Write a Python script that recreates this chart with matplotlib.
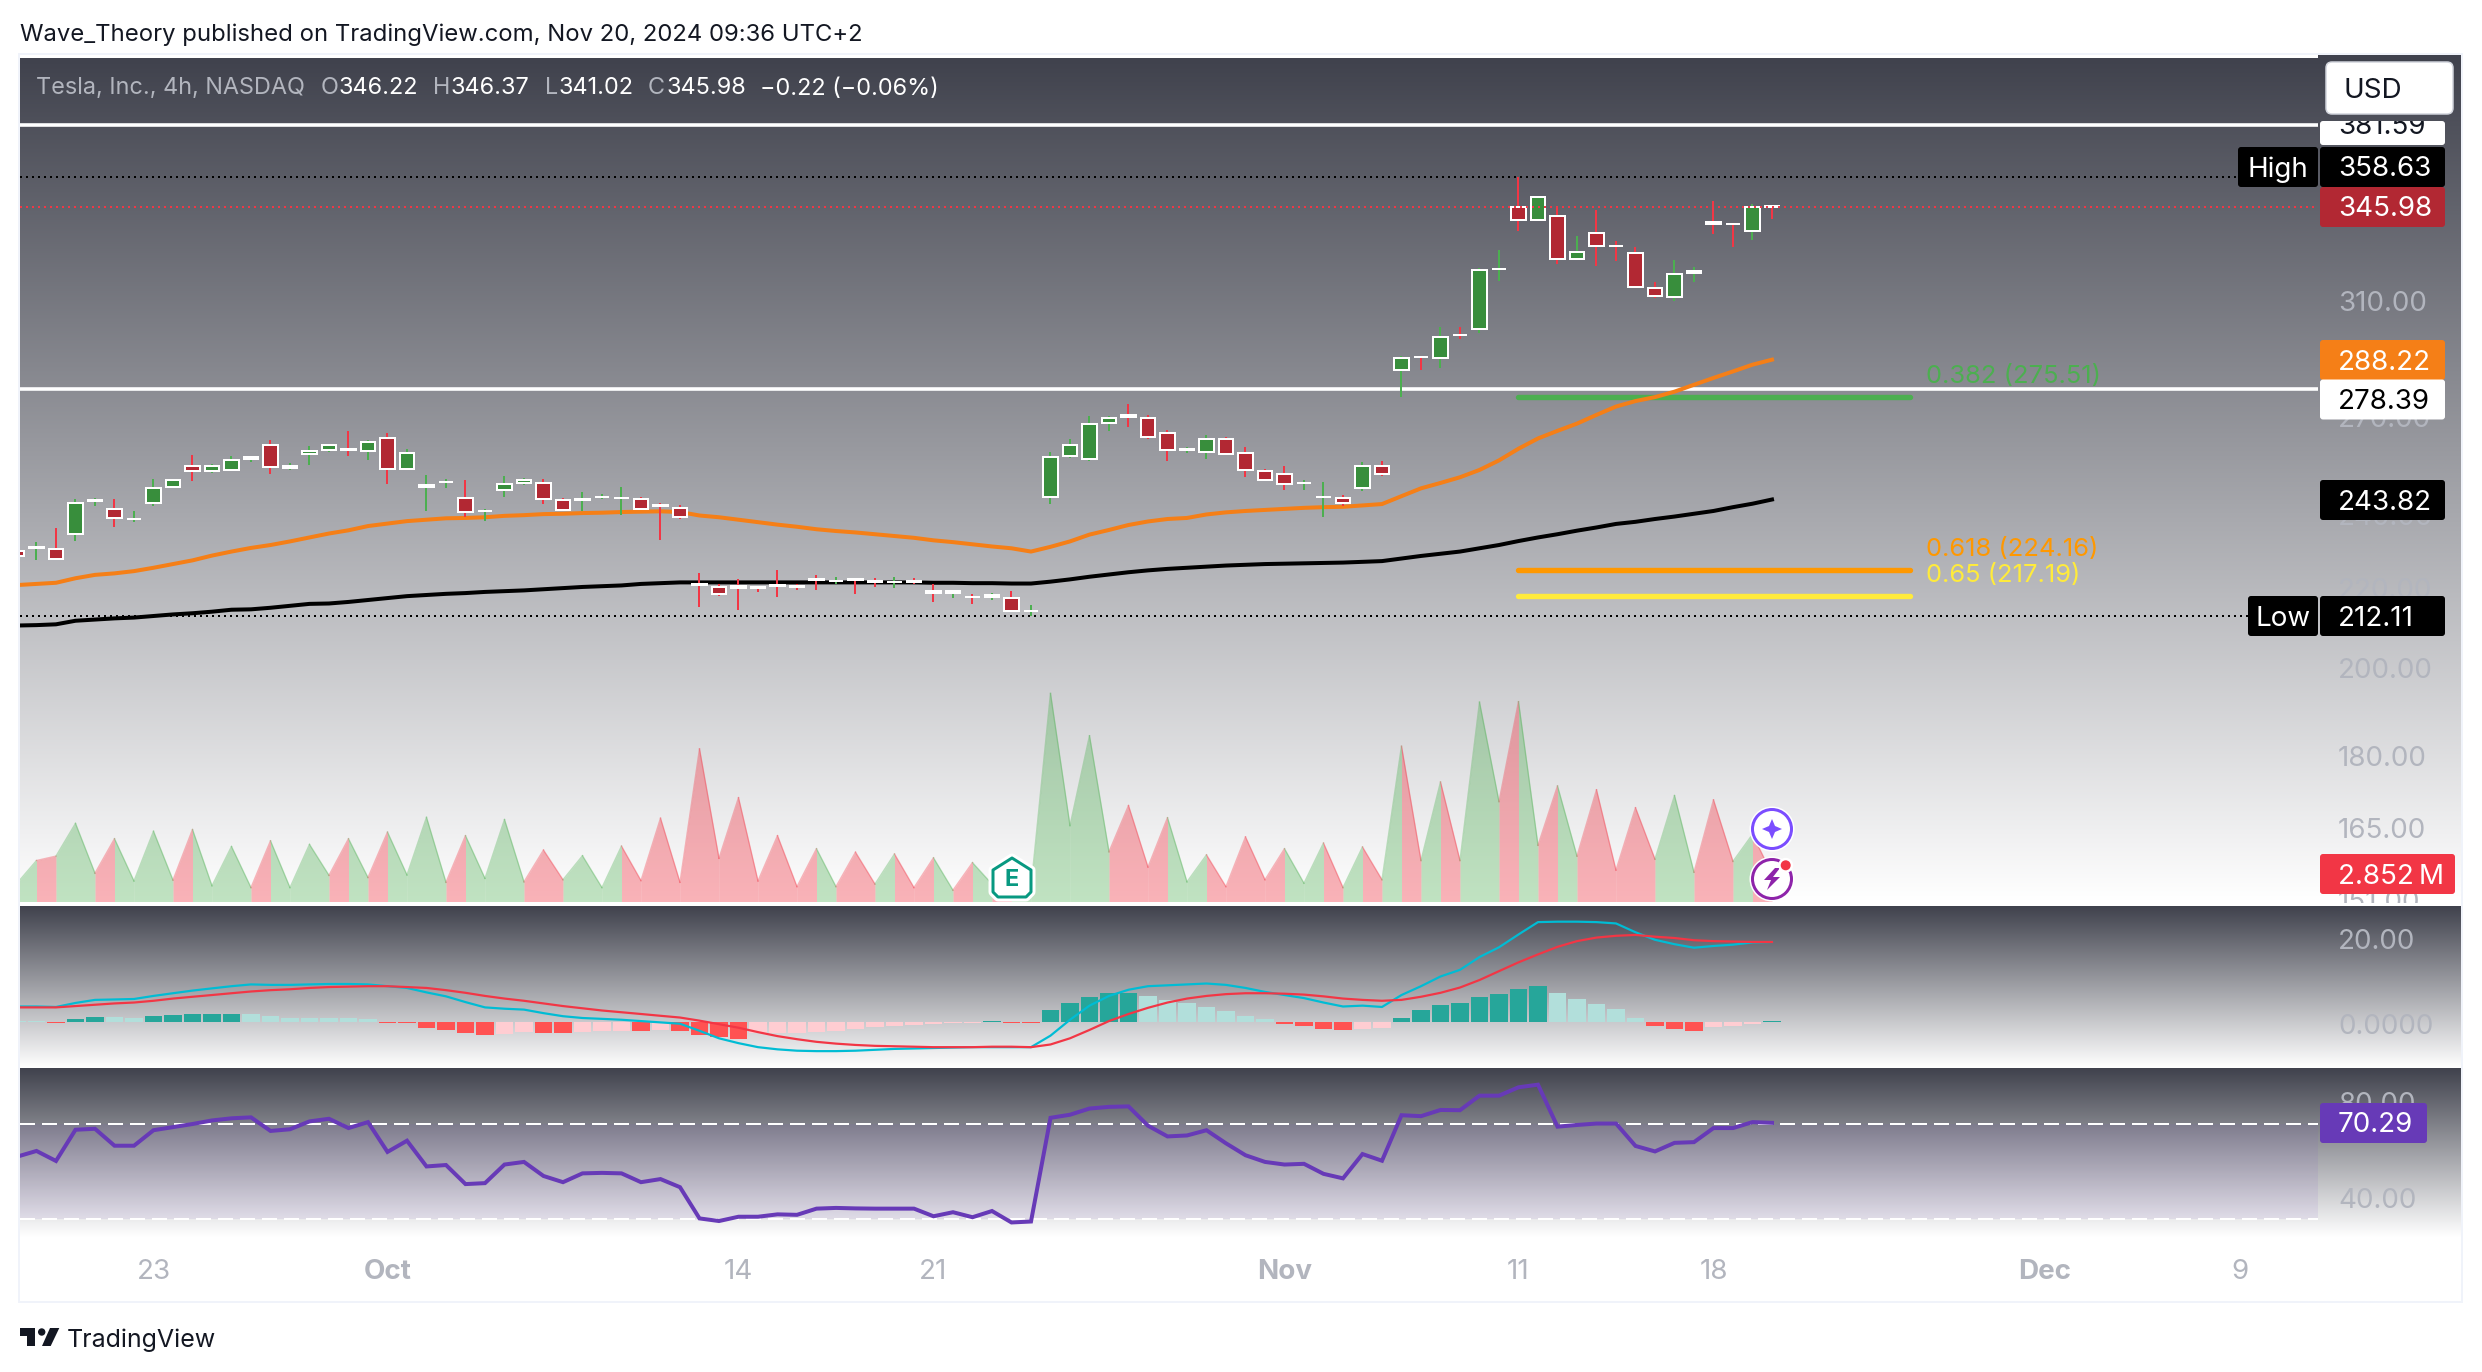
import numpy as np
import matplotlib
matplotlib.use('Agg')
import matplotlib.pyplot as plt
from matplotlib.patches import Rectangle, FancyBboxPatch, Polygon, Circle
from matplotlib.transforms import Bbox, TransformedBbox, ScaledTranslation

plt.rcParams['font.family'] = ['Inter', 'Liberation Sans', 'DejaVu Sans']

# Data
opens = [229.3, 230.2, 229.8, 234.1, 243.3, 241.1, 238.3, 242.7, 247.6, 253.7, 252.4, 252.7, 256.0, 260.2, 253.2, 257.6,
         258.8, 258.9, 258.5, 262.4, 253.0, 247.5, 248.9, 244.2, 240.5, 246.7, 248.8, 248.7, 243.6, 243.7, 244.6, 244.3,
         243.9, 242.1, 241.3, 220.3, 219.6, 219.9, 219.5, 220.0, 219.8, 221.6, 221.2, 221.6, 221.1, 221.0, 221.1, 218.6,
         218.0, 217.1, 217.0, 216.7, 213.5, 244.6, 256.9, 256.0, 267.3, 269.8, 268.7, 264.0, 258.7, 258.2, 262.0, 257.7,
         252.2, 251.5, 248.6, 244.5, 244.2, 247.3, 253.7, 284.7, 289.2, 288.9, 296.9, 299.1, 321.2, 345.9, 340.8, 342.2,
         325.3, 335.3, 330.3, 327.3, 313.9, 310.8, 319.7, 340.0, 339.0, 336.0, 346.22]
highs = [229.6, 231.8, 235.7, 244.0, 244.3, 244.0, 240.6, 249.9, 249.6, 257.2, 254.4, 256.9, 256.9, 261.9, 254.7, 260.0,
         260.3, 264.7, 261.9, 264.1, 259.0, 251.1, 249.9, 249.6, 241.1, 250.8, 250.2, 249.9, 244.3, 246.1, 245.5, 247.5,
         244.6, 242.9, 242.3, 223.4, 220.4, 221.8, 219.9, 224.1, 220.4, 222.8, 222.3, 221.8, 222.0, 222.3, 222.0, 220.4,
         218.9, 217.8, 218.1, 218.6, 214.8, 258.1, 262.1, 269.5, 269.5, 273.4, 269.8, 265.1, 259.6, 263.4, 262.8, 259.6,
         252.9, 253.8, 249.5, 248.9, 245.1, 255.0, 255.3, 289.5, 289.5, 299.7, 299.7, 321.6, 328.7, 358.63, 350.1, 346.0,
         334.2, 344.8, 332.2, 329.9, 316.3, 324.6, 322.0, 348.5, 339.3, 347.2, 346.37]
lows = [227.8, 226.9, 227.0, 232.1, 241.8, 236.0, 237.4, 242.0, 247.5, 249.3, 251.7, 252.6, 255.1, 251.4, 252.6, 254.1,
        258.1, 256.9, 255.6, 248.4, 253.0, 240.6, 247.2, 238.8, 237.7, 244.6, 248.1, 242.6, 240.8, 240.6, 244.0, 239.4,
        240.8, 232.3, 238.3, 214.5, 217.3, 213.7, 218.3, 217.0, 218.9, 218.9, 220.4, 217.8, 219.7, 219.2, 220.4, 215.7,
        216.8, 215.2, 216.3, 213.0, 212.11, 242.5, 256.2, 255.3, 264.7, 265.9, 262.2, 255.3, 257.8, 255.9, 257.3, 250.4,
        249.3, 246.6, 246.6, 238.7, 242.0, 246.3, 250.7, 275.6, 284.6, 285.3, 295.4, 297.4, 316.7, 336.2, 340.7, 323.2,
        325.2, 322.3, 324.4, 314.2, 310.3, 309.1, 316.3, 335.0, 329.9, 332.6, 341.02]
closes = [228.0, 230.3, 227.2, 242.8, 243.7, 238.4, 238.3, 247.1, 249.5, 252.4, 253.7, 255.5, 256.6, 253.4, 253.8, 258.3,
          260.2, 258.8, 261.1, 253.0, 257.7, 248.1, 249.0, 240.3, 240.5, 248.3, 249.5, 244.1, 240.9, 244.0, 244.6, 244.3,
          241.1, 242.0, 238.9, 220.2, 217.8, 219.4, 219.4, 219.9, 219.7, 221.5, 221.2, 221.5, 221.0, 221.0, 221.0, 218.0,
          218.6, 217.0, 217.4, 213.5, 213.5, 256.4, 260.1, 266.8, 268.7, 269.1, 262.6, 258.8, 259.0, 262.0, 257.6, 252.7,
          249.6, 248.4, 248.6, 244.5, 242.8, 253.7, 251.4, 288.7, 289.1, 296.3, 296.8, 320.7, 321.2, 340.8, 350.0, 325.3,
          327.7, 330.4, 330.2, 314.5, 311.2, 319.2, 320.4, 339.0, 338.9, 345.9, 345.98]
ma_orange = [220.1, 220.4, 220.7, 221.9, 222.8, 223.2, 223.8, 224.7, 225.7, 226.7, 228.0, 229.1, 230.1, 230.9, 231.9, 233.0,
             234.1, 235.0, 236.2, 236.9, 237.6, 238.0, 238.4, 238.5, 238.7, 239.1, 239.3, 239.6, 239.7, 239.9, 240.0, 240.2,
             240.3, 240.4, 240.2, 239.2, 238.7, 238.0, 237.3, 236.6, 236.0, 235.3, 234.8, 234.4, 233.9, 233.4, 232.9, 232.2,
             231.7, 231.1, 230.5, 230.0, 229.1, 230.4, 231.9, 233.8, 235.1, 236.5, 237.5, 238.2, 238.5, 239.5, 240.1, 240.5,
             240.8, 241.1, 241.4, 241.6, 241.7, 242.1, 242.5, 244.8, 247.1, 248.7, 250.4, 252.6, 255.5, 259.1, 262.3, 264.7,
             267.0, 269.8, 272.5, 274.3, 275.6, 277.4, 279.7, 282.0, 284.2, 286.5, 288.22]
ma_black = [209.7, 209.8, 210.0, 210.9, 211.2, 211.5, 211.7, 212.1, 212.5, 212.8, 213.2, 213.7, 213.8, 214.2, 214.7, 215.2,
            215.3, 215.7, 216.2, 216.7, 217.2, 217.5, 217.8, 218.0, 218.3, 218.5, 218.7, 219.0, 219.3, 219.6, 219.8, 220.0,
            220.4, 220.6, 220.8, 220.8, 220.8, 220.8, 220.8, 220.8, 220.8, 220.8, 220.8, 220.8, 220.8, 220.8, 220.8, 220.7,
            220.7, 220.6, 220.6, 220.5, 220.5, 221.0, 221.6, 222.3, 222.9, 223.5, 224.0, 224.4, 224.7, 225.0, 225.3, 225.5,
            225.7, 225.8, 225.9, 226.0, 226.1, 226.3, 226.5, 227.2, 227.9, 228.5, 229.1, 230.0, 230.9, 232.0, 233.0, 233.9,
            234.9, 235.8, 236.8, 237.4, 238.2, 238.9, 239.7, 240.5, 241.6, 242.6, 243.82]
volume = [1.9, 4.27, 4.73, 8.14, 2.95, 6.54, 2.14, 7.32, 2.23, 7.5, 1.64, 5.73, 1.45, 6.32, 1.45, 5.95,
          2.73, 6.54, 2.5, 7.23, 2.77, 8.77, 2.0, 6.86, 2.41, 8.54, 2.05, 5.36, 2.27, 4.77, 1.45, 5.77,
          2.18, 8.68, 2.0, 15.9, 4.5, 10.82, 2.14, 6.86, 1.55, 5.5, 1.55, 5.14, 1.82, 4.95, 1.45, 4.55,
          1.18, 4.05, 1.82, 0.55, 1.45, 21.68, 7.91, 17.27, 5.18, 10.0, 3.59, 8.73, 2.05, 4.86, 1.55, 6.73,
          2.27, 5.5, 1.91, 6.09, 1.45, 5.68, 2.27, 16.18, 4.27, 12.45, 4.27, 20.77, 10.41, 20.82, 5.86, 12.04,
          4.73, 11.64, 3.27, 9.77, 4.41, 11.04, 3.05, 10.59, 4.18, 7.0, 2.852]
macd = [3.63, 3.63, 3.52, 4.46, 5.18, 5.28, 5.39, 6.11, 6.74, 7.36, 7.88, 8.39, 8.81, 8.7, 8.7, 8.81,
        8.91, 8.91, 8.81, 8.39, 7.98, 6.94, 6.01, 4.66, 3.42, 3.11, 2.9, 2.07, 1.35, 0.93, 0.73, 0.52,
        0.21, -0.1, -0.41, -2.07, -3.83, -4.97, -5.91, -6.42, -6.74, -6.84, -6.84, -6.74, -6.53, -6.32, -6.22, -6.11,
        -6.01, -5.91, -5.91, -5.91, -5.91, -3.21, 0.52, 3.83, 6.11, 7.56, 8.39, 8.6, 8.81, 9.02, 8.7, 7.98,
        7.05, 6.32, 5.6, 4.56, 3.63, 3.83, 3.52, 6.32, 8.39, 10.67, 12.23, 15.23, 17.51, 20.52, 23.42, 23.52,
        23.52, 23.42, 23.11, 21.04, 19.27, 18.24, 17.41, 17.82, 18.13, 18.65, 18.76]
signal = [3.42, 3.42, 3.42, 3.73, 4.04, 4.35, 4.56, 4.97, 5.49, 5.91, 6.32, 6.74, 7.15, 7.46, 7.67, 7.98,
          8.19, 8.29, 8.39, 8.39, 8.19, 7.98, 7.46, 6.84, 6.11, 5.49, 4.97, 4.35, 3.73, 3.21, 2.69, 2.28,
          1.87, 1.45, 1.04, 0.31, -0.52, -1.35, -2.38, -3.32, -4.04, -4.66, -5.08, -5.39, -5.6, -5.7, -5.8, -5.91,
          -5.91, -5.91, -5.8, -5.8, -5.91, -5.28, -3.83, -1.87, 0.21, 1.87, 3.32, 4.56, 5.49, 6.11, 6.53, 6.74,
          6.74, 6.63, 6.42, 6.01, 5.49, 5.18, 4.97, 5.18, 5.91, 6.84, 8.08, 9.84, 11.92, 13.99, 15.85, 17.62,
          18.96, 19.79, 20.21, 20.41, 20.0, 19.69, 19.17, 18.96, 18.86, 18.76, 18.76]
hist = [0.21, 0.2, -0.21, 0.62, 1.14, 1.13, 0.93, 1.45, 1.66, 1.87, 1.88, 1.89, 1.85, 1.45, 1.04, 1.02,
        1.0, 0.93, 0.62, -0.31, -0.32, -1.45, -1.87, -2.49, -3.0, -2.8, -2.38, -2.59, -2.6, -2.28, -2.18, -2.17,
        -2.2, -1.97, -2.07, -3.0, -3.63, -3.94, -2.59, -2.58, -2.49, -2.45, -2.18, -1.66, -1.24, -0.93, -0.73, -0.52,
        -0.31, -0.21, 0.21, -0.21, -0.22, 2.8, 4.56, 5.9, 6.84, 6.85, 6.11, 5.18, 4.35, 3.52, 2.59, 1.45,
        0.62, -0.41, -0.83, -1.55, -1.97, -1.66, -1.45, 1.04, 2.69, 4.04, 4.46, 5.91, 6.63, 7.77, 8.5, 6.84,
        5.39, 4.25, 3.11, 1.04, -0.83, -1.55, -2.07, -1.14, -0.93, -0.52, 0.21]
rsi = [56.1, 58.5, 54.3, 67.4, 67.8, 60.7, 60.7, 67.2, 68.5, 69.8, 71.3, 72.2, 72.6, 66.9, 67.6, 70.9,
       72.0, 68.1, 70.6, 58.1, 62.8, 52.0, 52.6, 44.6, 45.0, 52.8, 53.9, 48.0, 45.4, 49.1, 49.3, 49.1,
       45.4, 46.7, 43.3, 30.2, 29.1, 30.9, 30.9, 31.9, 31.7, 34.3, 34.6, 34.4, 34.3, 34.3, 34.3, 31.1,
       32.8, 30.7, 33.3, 28.5, 28.9, 72.4, 73.7, 76.3, 77.0, 77.2, 69.1, 64.6, 65.0, 67.2, 61.7, 56.7,
       53.9, 52.8, 53.1, 48.9, 47.0, 57.2, 54.4, 73.5, 73.1, 75.7, 75.6, 81.7, 81.7, 85.2, 86.3, 68.7,
       69.4, 70.0, 70.0, 60.6, 58.3, 61.9, 62.2, 68.1, 68.1, 70.6, 70.29]

price_ticks = [310, 270, 240, 220, 200, 180, 165, 151]
fib_levels = [275.51, 224.16, 217.19]
fib_names = ['0.382', '0.618', '0.65']
fib_colors = ['#4CAF50', '#FF9800', '#FFEB3B']
time_ticks = [7, 19, 37, 47, 65, 77, 87, 104, 114]
time_labels = ['23', 'Oct', '14', '21', 'Nov', '11', '18', 'Dec', '9']

W, H = 2482, 1372
GREY = '#B2B5BE'
RED = '#F23645'
UP_BODY, DOWN_BODY = '#388E3C', '#B22833'
UP_WICK, DOWN_WICK = '#4CAF50', '#F23645'
x = np.arange(len(closes))
xlim = (0.154, 118.0)
px = 0.72  # 1 pixel in points
TEXT_DY = 2.5  # va=center sits a bit high with digits

fig = plt.figure(figsize=(W / 100, H / 100), dpi=100, facecolor='white')

def pane(left, top, right, bottom, z):
  ax = fig.add_axes([left / W, 1 - bottom / H, (right - left) / W, (bottom - top) / H], zorder=z)
  ax.patch.set_alpha(0)
  for s in ax.spines.values():
    s.set_visible(False)
  return ax

def right_ticks(ax, ticks, labels):
  ax.yaxis.set_ticks_position('right')
  ax.set_yticks(ticks)
  ax.set_yticklabels(labels)
  ax.minorticks_off()
  ax.tick_params(axis='y', length=0, pad=20 * px, labelsize=20, labelcolor=GREY, which='both')
  ax.set_xticks([])
  shift = ScaledTranslation(0, -TEXT_DY / 100, fig.dpi_scale_trans)
  for lbl in ax.get_yticklabels():
    lbl.set_transform(lbl.get_transform() + shift)

# Backgrounds in pixel coords
bg = pane(0, 0, W, H, 0)
ov = pane(0, 0, W, H, 10)
for a in (bg, ov):
  a.set_xlim(0, W)
  a.set_ylim(H, 0)
  a.axis('off')

def put(xp, yp, s, **kw):
  kw.setdefault('va', 'center')
  return ov.text(xp, yp + TEXT_DY, s, **kw)

ramp = np.linspace(0, 1, 256)[:, None, None]
dark = np.array([64, 66, 77]) / 255
grad = dark + (1 - dark) * ramp
for top, bottom in [(58, 902), (906, 1068), (1068, 1237)]:
  bg.imshow(grad, extent=[20, 2462, bottom, top], aspect='auto', interpolation='bilinear')
bg.add_patch(Rectangle((2318, 54), 144, 4, fc='#40424D', ec='none'))
bg.add_patch(Rectangle((19, 54), 2443, 1248, fc='none', ec='#F0F3FA', lw=2 * px))
bg.set_xlim(0, W)
bg.set_ylim(H, 0)

# Volume
ax_vol = pane(20, 680, 2318, 901.5, 1)
ax_vol.set_xlim(*xlim)
ax_vol.set_ylim(0, 23.08)
ax_vol.axis('off')
for i in x[1:]:
  up = closes[i] >= opens[i]
  c = UP_WICK if up else RED
  ax_vol.fill_between([i - 1, i], [volume[i - 1], volume[i]], 0, color=c, alpha=0.35 if up else 0.38, lw=0)
  ax_vol.plot([i - 1, i], [volume[i - 1], volume[i]], color=c, alpha=0.35, lw=1.4 * px)

# Price
ax = pane(20, 58, 2318, 905, 3)
ax.set_yscale('log')
ax.set_xlim(*xlim)
ax.set_ylim(150.1, 413.5)
right_ticks(ax, price_ticks[:-1], ['%.2f' % t for t in price_ticks[:-1]])

ax.hlines([381.59, 278.39], *xlim, color='white', lw=3.6 * px, zorder=1)
for lvl, col in zip(fib_levels, fib_colors):
  ax.plot([77.0, 97.1], [lvl, lvl], color=col, lw=5.4 * px, solid_capstyle='round', zorder=1.5)
ax.plot(x, ma_orange, color='#F57F17', lw=4 * px, zorder=2, solid_joinstyle='round')
ax.plot(x, ma_black, color='black', lw=4 * px, zorder=2, solid_joinstyle='round')

wick_cols = [UP_WICK if c >= o else DOWN_WICK for o, c in zip(opens, closes)]
body_cols = [UP_BODY if c >= o else DOWN_BODY for o, c in zip(opens, closes)]
ax.vlines(x, lows, highs, colors=wick_cols, lw=2 * px, zorder=3)
ax.bar(x, np.abs(np.array(closes) - np.array(opens)), bottom=np.minimum(opens, closes), width=0.72,
       color=body_cols, edgecolor='white', lw=2 * px, zorder=4)

dots = (0, (1, 2))
ax.plot([xlim[0], (2238 - 17) / 19.5], [358.63, 358.63], color='black', lw=2 * px, ls=dots, zorder=5)
ax.plot([xlim[0], (2248 - 17) / 19.5], [212.11, 212.11], color='black', lw=2 * px, ls=dots, zorder=5)
ax.hlines(345.98, *xlim, color=RED, lw=2 * px, ls=dots, zorder=5)

for name, lvl, col, y in zip(fib_names, fib_levels, fib_colors, [374, 547, 573]):
  put(1926, y, '%s (%.2f)' % (name, lvl), color=col, fontsize=18.4, ha='left', zorder=1)

# MACD
ax_macd = pane(20, 906, 2318, 1067.5, 2)
ax_macd.set_xlim(*xlim)
ax_macd.set_ylim(-10.68, 27.2)
right_ticks(ax_macd, [0, 20], ['0.0000', '20.00'])
hist_cols = []
for i, h in enumerate(hist):
  rising = i > 0 and h > hist[i - 1]
  if h >= 0:
    hist_cols.append('#26A69A' if rising else '#B2DFDB')
  else:
    hist_cols.append('#FFCDD2' if rising else '#FF5252')
ax_macd.bar(x, hist, width=0.9, color=hist_cols, lw=0, zorder=1)
ax_macd.plot(x, macd, color='#00BCD4', lw=2.2 * px, zorder=2)
ax_macd.plot(x, signal, color=RED, lw=2.2 * px, zorder=3)

# RSI
ax_rsi = pane(20, 1068, 2318, 1237, 2)
ax_rsi.set_xlim(*xlim)
ax_rsi.set_ylim(22.4, 93.3)
right_ticks(ax_rsi, [40, 80], ['40.00', '80.00'])
ax_rsi.axhspan(30, 70, color='#7E57C2', alpha=0.1, lw=0, zorder=0)
ax_rsi.hlines([30, 70], *xlim, color='white', lw=2 * px, ls=(0, (7.5, 3.5)), zorder=1)
ax_rsi.plot(x, rsi, color='#673AB7', lw=4 * px, zorder=2, solid_joinstyle='miter')
ax_rsi.set_xticks(time_ticks)
ax_rsi.set_xticklabels(time_labels)
ax_rsi.tick_params(axis='x', length=0, pad=22 * px, labelsize=20, labelcolor=GREY)
for lbl in ax_rsi.get_xticklabels():
  if lbl.get_text() in ('Oct', 'Nov', 'Dec'):
    lbl.set_fontweight('bold')

# Header and legend
put(20, 32, 'Wave_Theory published on TradingView.com, Nov 20, 2024 09:36 UTC+2', fontsize=17.2, color='#131722')
put(36, 86, 'Tesla, Inc., 4h, NASDAQ', fontsize=16.9, color=GREY)
for xp, s, c in [(321, 'O', GREY), (339, '346.22', 'white'), (433, 'H', GREY), (451, '346.37', 'white'),
                 (545, 'L', GREY), (558, '341.02', 'white'), (648, 'C', GREY), (666, '345.98', 'white'),
                 (760, '\u22120.22 (\u22120.06%)', 'white')]:
  put(xp, 86, s, fontsize=16.9, color=c)

# Right scale labels
def box(x0, x1, y0, y1, col):
  ov.add_patch(FancyBboxPatch((x0, y0), x1 - x0, y1 - y0, boxstyle='round,pad=0,rounding_size=3', fc=col, ec='none', zorder=3))

def label(yc, txt, fc, tc, x1=2445):
  box(2320, x1, yc - 20, yc + 20, fc)
  put(2338, yc, txt, color=tc, fontsize=20, ha='left', zorder=4)

# 381.59 is cut off on top, 151.00 under the pane edge
t = put(2338, 125, '381.59', color='#131722', fontsize=20, zorder=4)
t.set_clip_on(True)
t.set_clip_box(TransformedBbox(Bbox([[2318, 121], [2462, 145]]), ov.transData))
box(2320, 2445, 121, 145, 'white')
t = put(2338, 900, '151.00', color=GREY, fontsize=20, zorder=2)
t.set_clip_on(True)
t.set_clip_box(TransformedBbox(Bbox([[2318, 880], [2462, 903]]), ov.transData))

label(167, '358.63', 'black', 'white')
label(207, '345.98', DOWN_BODY, 'white')
label(360, '288.22', '#F57F17', 'white')
label(399.5, '278.39', 'white', 'black')
label(500, '243.82', 'black', 'white')
label(616, '212.11', 'black', 'white')
label(874, '2.852\u2009M', RED, 'white', x1=2455)
label(1123, '70.29', '#673AB7', 'white', x1=2427)
box(2238, 2318, 147, 187, 'black')
put(2278, 167, 'High', color='white', fontsize=20, ha='center', zorder=4)
box(2248, 2318, 596, 636, 'black')
put(2283, 616, 'Low', color='white', fontsize=20, ha='center', zorder=4)
ov.add_patch(FancyBboxPatch((2326, 62), 127, 52, boxstyle='round,pad=0,rounding_size=6', fc='white', ec='#D1D4DC', lw=1.5 * px, zorder=5))
put(2344, 88, 'USD', color='#131722', fontsize=20, zorder=6)

# Earnings flag and buttons
flag = [(993, 870), (1012, 858), (1031, 870), (1031, 892), (1026, 897), (998, 897), (993, 892)]
ov.add_patch(Polygon(flag, closed=True, fc='white', ec='white', lw=9 * px, joinstyle='round', zorder=6))
ov.add_patch(Polygon(flag, closed=True, fc='white', ec='#089981', lw=3 * px, joinstyle='round', zorder=7))
put(1012, 877, 'E', color='#089981', fontsize=17, fontweight='bold', ha='center', zorder=8)

ov.add_patch(Circle((1772, 829), 22.5, fc='white', ec='none', zorder=6))
ov.add_patch(Circle((1772, 829), 19.5, fc='white', ec='#7B4DFF', lw=3 * px, zorder=7))
star = [(1772, 819), (1775, 826), (1782, 829), (1775, 832), (1772, 839), (1769, 832), (1762, 829), (1769, 826)]
ov.add_patch(Polygon(star, closed=True, fc='#7B4DFF', ec='none', zorder=8))
ov.add_patch(Circle((1772, 879), 22.5, fc='white', ec='none', zorder=6))
ov.add_patch(Circle((1772, 879), 19.5, fc='white', ec='#8E24AA', lw=3 * px, zorder=7))
bolt = [(1775, 868), (1764, 880), (1771, 880), (1767, 890), (1780, 877), (1773, 877), (1780, 868)]
ov.add_patch(Polygon(bolt, closed=True, fc='#8E24AA', ec='none', zorder=8))
ov.add_patch(Circle((1785.7, 865.3), 7.5, fc='white', ec='none', zorder=8))
ov.add_patch(Circle((1785.7, 865.3), 5, fc=RED, ec='none', zorder=9))

# TradingView logo
ink = '#131722'
ov.add_patch(Polygon([(20, 1328), (35, 1328), (35, 1346), (27.3, 1346), (27.3, 1335.5), (20, 1335.5)], fc=ink, ec='none'))
ov.add_patch(Circle((41.7, 1332), 3.7, fc=ink, ec='none'))
ov.add_patch(Polygon([(50, 1328), (59.3, 1328), (50.7, 1346), (42, 1346)], fc=ink, ec='none'))
put(67, 1338, 'TradingView', fontsize=18, color=ink)

fig.savefig('out.png', dpi=100)
